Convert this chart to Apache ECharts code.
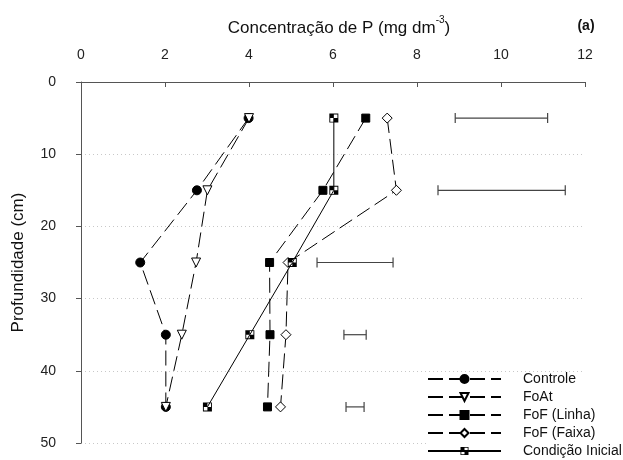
<!DOCTYPE html>
<html>
<head>
<meta charset="utf-8">
<script src="https://cdn.jsdelivr.net/npm/echarts@6/dist/echarts.min.js"></script>
<style>html,body{margin:0;padding:0;background:#fff;}#c{width:623px;height:460px;}</style>
</head>
<body>
<div id="c"></div>
<script>
const depths = [5, 15, 25, 35, 45];
const controle = [3.99, 2.76, 1.41, 2.02, 2.02];
const foat = [4.00, 3.01, 2.74, 2.40, 2.02];
const fofLinha = [6.78, 5.76, 4.49, 4.50, 4.44];
const fofFaixa = [7.29, 7.51, 4.93, 4.88, 4.75];
const condInicial = [6.02, 6.02, 5.03, 4.02, 3.01];
const errLow = [8.91, 8.50, 5.62, 6.26, 6.31];
const errHigh = [11.11, 11.53, 7.43, 6.79, 6.74];
const xTicks = [0, 2, 4, 6, 8, 10, 12];
const yTicks = [0, 10, 20, 30, 40, 50];
const names = ['Controle', 'FoAt', 'FoF (Linha)', 'FoF (Faixa)', 'Condição Inicial'];

const FONT = 'Liberation Sans, Arial, sans-serif';
const pair = arr => arr.map((v, i) => [v, depths[i]]);
const triDown = 'path://M0,0 L10,0 L5,9 Z';
const ciSym = 'path://M0,0 L10,0 L10,10 L0,10 Z M1,1 L1,9 L9,9 L9,1 Z M1,1 L5,1 L5,5 L1,5 Z M5,5 L9,5 L9,9 L5,9 Z';

function lineSeries(name, arr, symbol, size, fill, dashed) {
  return {
    name: name, type: 'line', data: pair(arr),
    symbol: symbol, symbolSize: size, showAllSymbol: true,
    lineStyle: { color: '#000', width: 1, type: dashed ? [15, 6] : 'solid' },
    itemStyle: { color: fill, borderColor: '#000', borderWidth: symbol === ciSym ? 0 : 1 },
    emphasis: { disabled: true },
    animation: false, z: 3
  };
}

const chart = echarts.init(document.getElementById('c'), null, { renderer: 'canvas' });
chart.setOption({
  animation: false,
  backgroundColor: '#fff',
  textStyle: { fontFamily: FONT },
  title: [
    {
      text: '{t|Concentração de P (mg dm}{s|-3}{t|)}',
      left: 334, top: 10, textAlign: 'center',
      textStyle: {
        fontWeight: 'normal',
        rich: {
          t: { fontSize: 17, fontWeight: 'normal', fontFamily: FONT, color: '#111', verticalAlign: 'bottom', lineHeight: 22 },
          s: { fontSize: 10, fontWeight: 'normal', fontFamily: FONT, color: '#111', verticalAlign: 'top', lineHeight: 14, padding: [0, 0, 8, 0] }
        }
      }
    },
    {
      text: '(a)', left: 581, top: 14, textAlign: 'center',
      textStyle: { fontSize: 14, fontWeight: 'bold', fontFamily: FONT, color: '#111' }
    }
  ],
  grid: { left: 81, right: 38, top: 82, bottom: 17, containLabel: false },
  xAxis: {
    type: 'value', position: 'top', min: xTicks[0], max: xTicks[xTicks.length - 1], interval: 2,
    offset: 11,
    axisLine: { show: true, lineStyle: { color: '#555', width: 1 } },
    axisTick: { show: true, inside: true, length: 5, lineStyle: { color: '#555' } },
    axisLabel: { fontSize: 14, color: '#222', margin: 9, fontFamily: FONT },
    splitLine: { show: false }
  },
  yAxis: {
    type: 'value', inverse: true, min: yTicks[0], max: yTicks[yTicks.length - 1], interval: 10,
    offset: 13,
    name: 'Profundidade (cm)', nameLocation: 'middle', nameGap: 41,
    nameTextStyle: { fontSize: 17, color: '#111', fontFamily: FONT },
    axisLine: { show: true, lineStyle: { color: '#555', width: 1 } },
    axisTick: { show: true, inside: false, length: 5, lineStyle: { color: '#555' } },
    axisLabel: { fontSize: 14, color: '#222', margin: 12, fontFamily: FONT },
    splitLine: { show: true, lineStyle: { color: '#c8c8c8', width: 1, type: [1, 3] } }
  },
  legend: {
    orient: 'vertical', left: 427, top: 372, height: 95,
    itemWidth: 73, itemHeight: 10, itemGap: 4, padding: 0,
    data: names,
    textStyle: { fontSize: 14, lineHeight: 13, color: '#111', fontFamily: FONT, padding: [0, 0, 0, 17] },
    backgroundColor: '#fff',
    selectedMode: false
  },
  series: [
    lineSeries(names[0], controle, 'circle', 9, '#000', true),
    lineSeries(names[1], foat, triDown, 9, '#fff', true),
    lineSeries(names[2], fofLinha, 'rect', 8, '#000', true),
    lineSeries(names[3], fofFaixa, 'diamond', 10, '#fff', true),
    lineSeries(names[4], condInicial, ciSym, 9, '#000', false),
    {
      name: 'DMS', type: 'custom',
      data: errLow.map((lo, i) => [lo, errHigh[i], depths[i]]),
      encode: { x: [0, 1], y: 2 },
      renderItem: function (params, api) {
        const a = api.coord([api.value(0), api.value(2)]);
        const b = api.coord([api.value(1), api.value(2)]);
        const h = 5;
        const st = { stroke: '#444', lineWidth: 1.2 };
        return {
          type: 'group',
          children: [
            { type: 'line', shape: { x1: a[0], y1: a[1], x2: b[0], y2: b[1] }, style: st },
            { type: 'line', shape: { x1: a[0], y1: a[1] - h, x2: a[0], y2: a[1] + h }, style: st },
            { type: 'line', shape: { x1: b[0], y1: b[1] - h, x2: b[0], y2: b[1] + h }, style: st }
          ]
        };
      },
      z: 2, animation: false
    }
  ]
});
</script>
</body>
</html>
